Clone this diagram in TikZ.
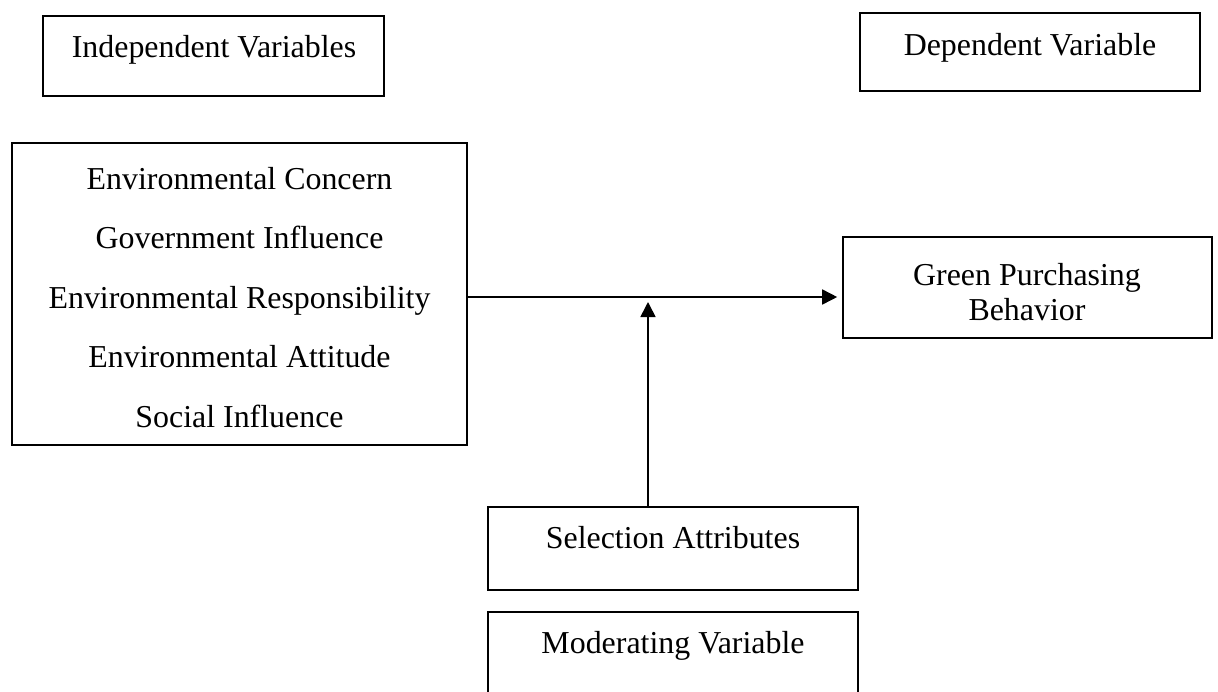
\documentclass[tikz,border=0pt]{standalone}
\usepackage{fontspec}
\setmainfont{Liberation Serif}
\usetikzlibrary{arrows.meta}
\begin{document}
\begin{tikzpicture}[x=1pt,y=-1pt,
  box/.style={draw=black, line width=1.6pt, rectangle, inner sep=0pt},
  lbl/.style={anchor=base, inner sep=0pt, font=\fontsize{31.9}{36}\selectfont},
  arr/.style={line width=1.6pt, -{Triangle[length=15pt,width=15pt]}}]
\useasboundingbox (0,0) rectangle (1218,691);
\begin{scope}
\clip (0,0) rectangle (1218,691);
% boxes
\node[box, minimum width=341pt, minimum height=80pt] (indep) at (213.5,56) {};
\node[box, minimum width=340pt, minimum height=78pt] (dep) at (1030,52) {};
\node[box, minimum width=455pt, minimum height=302pt] (big) at (239.5,294) {};
\node[box, minimum width=369pt, minimum height=101pt] (green) at (1027.5,287.5) {};
\node[box, minimum width=370pt, minimum height=83pt] (sel) at (673,548.5) {};
\node[box, minimum width=370pt, minimum height=108pt] (mod) at (673,666) {};
\end{scope}
% labels
\node[lbl] (tindep) at (214,57) {Independent Variables};
\node[lbl] (tdep) at (1030,55) {Dependent Variable};
\node[lbl] (tg1) at (1027,285) {Green Purchasing};
\node[lbl] (tg2) at (1027,320) {Behavior};
\node[lbl] (tb1) at (239.5,189) {Environmental Concern};
\node[lbl] (tb2) at (239.5,248.5) {Government Influence};
\node[lbl] (tb3) at (239.5,308) {Environmental Responsibility};
\node[lbl] (tb4) at (239.5,367.5) {Environmental Attitude};
\node[lbl] (tb5) at (239.5,427) {Social Influence};
\node[lbl] (tsel) at (673,548) {Selection Attributes};
\node[lbl] (tmod) at (673,653) {Moderating Variable};
% connectors
\coordinate (hy) at (0,297);
\coordinate (vx) at (648,302);
\draw[arr, shorten >=5pt] (big.east |- hy) -- (green.west |- hy);
\draw[arr] (sel.north -| vx) -- (vx);
\end{tikzpicture}
\end{document}
